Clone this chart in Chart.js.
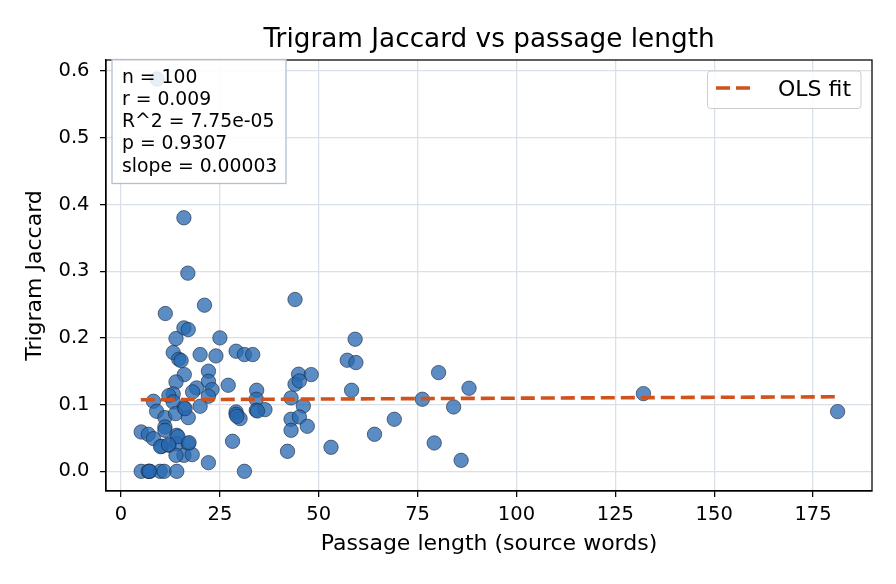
<!DOCTYPE html>
<html><head><meta charset="utf-8">
<script src="https://cdn.jsdelivr.net/npm/chart.js@4.4.1/dist/chart.umd.min.js"></script>
<style>html,body{margin:0;padding:0;background:#fff;}#wrap{width:896px;height:584px;}</style>
</head><body><div id="wrap"><canvas id="c" width="896" height="584"></canvas></div>
<script>
const lengths = [9.1,15.9,16.9,21.1,11.2,44.0,15.9,17.0,13.9,25.0,
  59.2,13.2,14.6,15.2,20.0,24.0,29.1,31.2,33.3,57.2,
  59.4,16.0,13.9,22.1,22.1,19.1,18.1,13.2,12.1,23.0,
  22.1,27.1,34.3,34.2,44.9,48.1,44.0,45.1,58.3,43.0,
  46.1,43.0,45.1,43.0,47.1,42.1,53.1,64.1,69.1,76.2,
  80.3,84.1,88.0,79.2,86.0,132.1,181.2,8.2,13.2,15.9,
  20.0,9.0,11.1,13.8,17.0,29.1,29.1,30.1,34.2,36.4,
  11.1,5.1,6.9,8.2,11.1,14.1,10.3,12.2,14.1,17.0,
  15.9,13.9,18.0,22.1,28.2,31.2,5.1,6.9,7.3,9.9,
  10.9,14.1,14.4,10.0,17.2,29.3,34.5,16.2,7.1,12.0];
const jaccard = [0.588,0.380,0.297,0.249,0.2365,0.2575,0.215,0.2125,0.199,0.200,
  0.198,0.178,0.168,0.166,0.175,0.173,0.180,0.175,0.175,0.1665,
  0.163,0.145,0.134,0.150,0.135,0.125,0.119,0.116,0.1135,0.1225,
  0.1125,0.129,0.1215,0.108,0.1455,0.145,0.1305,0.1355,0.1215,0.110,
  0.098,0.078,0.0815,0.0615,0.0675,0.030,0.036,0.0555,0.078,0.108,
  0.148,0.0965,0.1245,0.0425,0.0165,0.1165,0.0895,0.105,0.104,0.0955,
  0.0975,0.090,0.0805,0.0865,0.0805,0.089,0.0855,0.079,0.0915,0.0925,
  0.0665,0.059,0.0555,0.049,0.0615,0.054,0.0375,0.039,0.0415,0.0415,
  0.024,0.024,0.025,0.013,0.045,0.0,0.0,0.0,0.0,0.0,
  0.0,0.0,0.052,0.037,0.043,0.0825,0.0905,0.094,0.0,0.040];
const fitX = [5, 181];
const fitY = [0.1072, 0.1117];
const xTicks = [0, 25, 50, 75, 100, 125, 150, 175];
const yTicks = [0.0, 0.1, 0.2, 0.3, 0.4, 0.5, 0.6];
const statsLines = ["n = 100", "r = 0.009", "R^2 = 7.75e-05", "p = 0.9307", "slope = 0.00003"];
const titleText = "Trigram Jaccard vs passage length";
const xLabel = "Passage length (source words)";
const yLabel = "Trigram Jaccard";
const fitLabel = "OLS fit";

const FONT = "'DejaVu Sans', sans-serif";
const LINE_COLOR = '#d0521c';
const GRID = '#d9e0e9';

const scatterData = lengths.map((x, i) => ({x: x, y: jaccard[i]}));
const fitData = fitX.map((x, i) => ({x: x, y: fitY[i]}));

const extras = {
  id: 'extras',
  afterDatasetsDraw(chart) {
    const {ctx, chartArea: a} = chart;
    ctx.save();
    ctx.strokeStyle = '#000';
    ctx.lineWidth = 1.25;
    ctx.strokeRect(a.left, a.top, a.right - a.left, a.bottom - a.top);
    ctx.restore();
  },
  afterDraw(chart) {
    const {ctx, chartArea: a} = chart;
    ctx.save();
    // title
    ctx.fillStyle = '#000';
    ctx.font = `26.3px ${FONT}`;
    ctx.textAlign = 'center';
    ctx.textBaseline = 'alphabetic';
    ctx.fillText(titleText, (a.left + a.right) / 2, 46.5);
    // stats box
    ctx.fillStyle = 'rgba(255,255,255,0.85)';
    ctx.fillRect(112, 59.5, 174, 124);
    ctx.strokeStyle = '#b3bfcd';
    ctx.lineWidth = 1.3;
    ctx.strokeRect(112, 59.5, 174, 124);
    ctx.fillStyle = '#000';
    ctx.font = `18.8px ${FONT}`;
    ctx.textAlign = 'left';
    statsLines.forEach((t, i) => ctx.fillText(t, 122, 82.7 + i * 22.2));
    // legend
    const lx = 707.5, ly = 71, lw = 153.5, lh = 37.5, r = 3;
    ctx.beginPath();
    ctx.moveTo(lx + r, ly);
    ctx.arcTo(lx + lw, ly, lx + lw, ly + lh, r);
    ctx.arcTo(lx + lw, ly + lh, lx, ly + lh, r);
    ctx.arcTo(lx, ly + lh, lx, ly, r);
    ctx.arcTo(lx, ly, lx + lw, ly, r);
    ctx.closePath();
    ctx.fillStyle = 'rgba(255,255,255,0.85)';
    ctx.fill();
    ctx.strokeStyle = '#cccccc';
    ctx.lineWidth = 1;
    ctx.stroke();
    const ds = chart.data.datasets[0];
    ctx.strokeStyle = ds.borderColor;
    ctx.lineWidth = ds.borderWidth;
    ctx.setLineDash(ds.borderDash);
    ctx.beginPath();
    ctx.moveTo(716, 88);
    ctx.lineTo(754, 88);
    ctx.stroke();
    ctx.setLineDash([]);
    ctx.fillStyle = '#000';
    ctx.font = `22px ${FONT}`;
    ctx.fillText(ds.label, 778, 96);
    ctx.restore();
  }
};

new Chart(document.getElementById('c'), {
  data: {
    datasets: [
      {type: 'line', label: fitLabel, data: fitData, borderColor: LINE_COLOR, borderWidth: 3.6,
       borderDash: [14, 6], pointRadius: 0, fill: false, order: 0, tension: 0},
      {type: 'scatter', label: 'points', data: scatterData, backgroundColor: 'rgba(40,105,178,0.76)',
       borderColor: 'rgba(25,35,55,0.85)', borderWidth: 0.7, pointRadius: 7.2, order: 1}
    ]
  },
  options: {
    responsive: false, animation: false, devicePixelRatio: 1,
    layout: {padding: {top: 60, right: 24, bottom: 0, left: 0}},
    plugins: {legend: {display: false}, title: {display: false}, tooltip: {enabled: false}},
    scales: {
      x: {
        type: 'linear', min: -3.8, max: 189.9,
        afterBuildTicks: s => { s.ticks = xTicks.map(v => ({value: v})); },
        afterFit: s => { s.height = 93; },
        ticks: {font: {family: FONT, size: 19.5}, color: '#000', padding: 6.5, maxRotation: 0, callback: v => String(v)},
        grid: {color: GRID, lineWidth: 1.3, tickColor: '#000', tickLength: 6, tickWidth: 1.25, drawTicks: true},
        border: {display: true, color: '#000', width: 1.25},
        title: {display: true, text: xLabel, color: '#000', font: {family: FONT, size: 22, lineHeight: 1.2}, padding: {top: 0, bottom: 26.8}}
      },
      y: {
        type: 'linear', min: -0.0295, max: 0.6165,
        afterBuildTicks: s => { s.ticks = yTicks.map(v => ({value: v})); },
        afterFit: s => { s.width = 106; },
        ticks: {font: {family: FONT, size: 19.5}, color: '#000', padding: 10.5, callback: v => v.toFixed(1)},
        grid: {color: GRID, lineWidth: 1.3, tickColor: '#000', tickLength: 6, tickWidth: 1.25, drawTicks: true},
        border: {display: true, color: '#000', width: 1.25},
        title: {display: true, text: yLabel, color: '#000', font: {family: FONT, size: 22, lineHeight: 1.2}, padding: {top: 21.8, bottom: 0}}
      }
    }
  },
  plugins: [extras]
});
</script>
</body></html>
